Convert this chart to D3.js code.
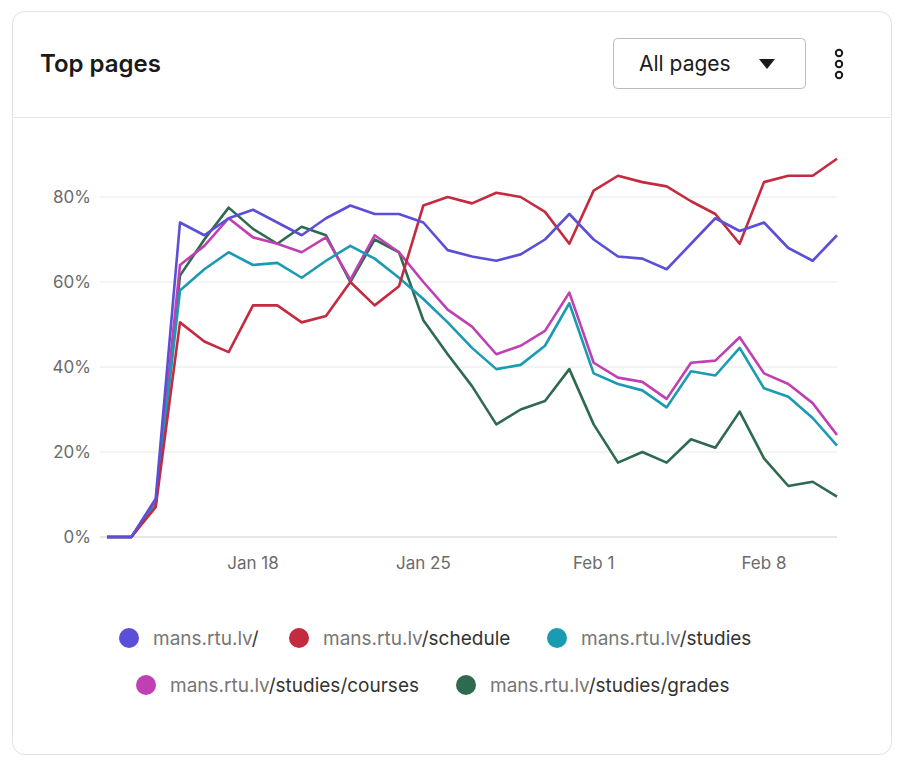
<!DOCTYPE html>
<html><head><meta charset="utf-8">
<script src="https://cdn.jsdelivr.net/npm/d3@7"></script>
<style>
body{margin:0;background:#fff;font-family:Inter,"Noto Sans",sans-serif;}
</style></head>
<body><svg id="chart" width="904" height="769"></svg>
<script>
// data, Jan 12 .. Feb 11
var startDate = new Date(2025, 0, 12);
var seriesNames = ['/', '/schedule', '/studies', '/studies/courses', '/studies/grades'];
var seriesColors = ['#5a4fd6', '#c42a40', '#1a9bb2', '#c03fb3', '#2e6a50'];
var home = [0,0,9,74,71,75,77,74,71,75,78,76,76,74,67.5,66,65,66.5,70,76,70,66,65.5,63,69,75,72,74,68,65,71];
var schedule = [0,0,7,50.5,46,43.5,54.5,54.5,50.5,52,60,54.5,59,78,80,78.5,81,80,76.5,69,81.5,85,83.5,82.5,79,76,69,83.5,85,85,89];
var studies = [0,0,7.5,58,63,67,64,64.5,61,65,68.5,65.5,61,56,50.5,44.5,39.5,40.5,45,55,38.5,36,34.5,30.5,39,38,44.5,35,33,28,21.5];
var courses = [0,0,8,64,68.5,75,70.5,69,67,70.5,60.5,71,67,60,53.5,49.5,43,45,48.5,57.5,41,37.5,36.5,32.5,41,41.5,47,38.5,36,31.5,24];
var grades = [0,0,8,61.5,70,77.5,72.5,69,73,71,60,70,67,51,43,35.5,26.5,30,32,39.5,26.5,17.5,20,17.5,23,21,29.5,18.5,12,13,9.5];
var allSeries = [home, schedule, studies, courses, grades];
var yTicks = [0, 20, 40, 60, 80];
var xTickDates = [new Date(2025,0,18), new Date(2025,0,25), new Date(2025,1,1), new Date(2025,1,8)];
var xTickLabels = ['Jan 18', 'Jan 25', 'Feb 1', 'Feb 8'];

var svg = d3.select('#chart');
svg.append('rect').attr('x', 12.5).attr('y', 11.5).attr('width', 879).attr('height', 743)
    .attr('rx', 12).attr('fill', '#fff').attr('stroke', '#e2e2e2');
svg.append('line').attr('x1', 13).attr('x2', 891).attr('y1', 117.5).attr('y2', 117.5).attr('stroke', '#e6e6e6');
svg.append('text').attr('x', 40).attr('y', 72).attr('font-size', 24).attr('font-weight', 600)
    .attr('fill', '#1a1a1a').text('Top pages');
svg.append('rect').attr('x', 613.5).attr('y', 38.5).attr('width', 192).attr('height', 50).attr('rx', 4)
    .attr('fill', '#fff').attr('stroke', '#bbb');
svg.append('text').attr('x', 639).attr('y', 71).attr('font-size', 21).attr('fill', '#1a1a1a').text('All pages');
svg.append('path').attr('d', 'M759,59 L775,59 L767,69 Z').attr('fill', '#1a1a1a');
[53, 64, 75].forEach(function(cy) {
    svg.append('circle').attr('cx', 839).attr('cy', cy).attr('r', 3.2)
        .attr('fill', 'none').attr('stroke', '#1a1a1a').attr('stroke-width', 2);
});

var dates = home.map(function(d, i) { return d3.timeDay.offset(startDate, i); });
var x = d3.scaleTime().domain([dates[0], dates[dates.length - 1]]).range([107, 837]);
var y = d3.scaleLinear().domain([0, 80]).range([537, 197]);

var grid = svg.append('g');
yTicks.forEach(function(t) {
    grid.append('line').attr('x1', 100).attr('x2', 837).attr('y1', y(t)).attr('y2', y(t))
        .attr('stroke', t == 0 ? '#ccc' : '#e8e8e8');
    grid.append('text').attr('x', 91).attr('y', y(t) + 6).attr('text-anchor', 'end')
        .attr('font-size', 17).attr('fill', '#6b6b6b').text(t + '%');
});
xTickDates.forEach(function(d, i) {
    grid.append('text').attr('x', x(d)).attr('y', 569).attr('text-anchor', 'middle')
        .attr('font-size', 17).attr('fill', '#6b6b6b').text(xTickLabels[i]);
});

var line = d3.line().x(function(d, i) { return x(dates[i]); }).y(function(d) { return y(d); });
// draw in reverse so blue/red sit on top
for (var s = allSeries.length - 1; s >= 0; s--) {
    svg.append('path').datum(allSeries[s]).attr('d', line).attr('fill', 'none')
        .attr('stroke', seriesColors[s]).attr('stroke-width', 2.6).attr('stroke-linejoin', 'round');
}

var legendPos = [[129, 638], [299, 638], [557, 638], [146, 685], [466, 685]];
seriesNames.forEach(function(n, i) {
    var g = svg.append('g').attr('transform', 'translate(' + legendPos[i][0] + ',' + legendPos[i][1] + ')');
    g.append('circle').attr('r', 10).attr('fill', seriesColors[i]);
    var t = g.append('text').attr('x', 24).attr('y', 7).attr('font-size', 19);
    t.append('tspan').attr('fill', '#777').text('mans.rtu.lv');
    t.append('tspan').attr('fill', '#333').text(n);
});
</script></body></html>
